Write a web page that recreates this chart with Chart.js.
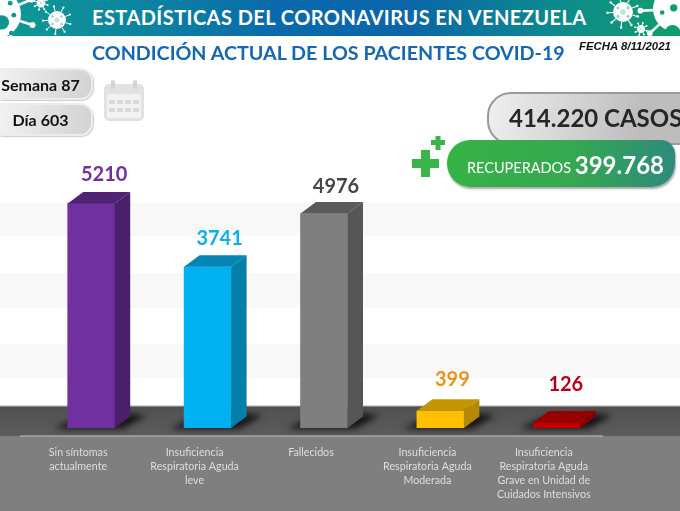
<!DOCTYPE html>
<html lang="es">
<head>
<meta charset="utf-8">
<title>Estadísticas del coronavirus en Venezuela</title>
<script src="https://cdn.jsdelivr.net/npm/chart.js@4"></script>
<style>
  html, body { margin: 0; padding: 0; background: #fff; }
  body { width: 680px; height: 511px; overflow: hidden; position: relative; font-family: Lato, sans-serif; }
  #chart { position: absolute; left: 0; top: 0; }
  .box { position: absolute; box-sizing: border-box; white-space: nowrap; }
  .center { display: flex; align-items: center; justify-content: center; }
  #band { left: 0; top: 0; width: 680px; height: 36px; overflow: hidden;
    background: linear-gradient(90deg, #0f9a92 0%, #0d8c9c 14%, #0a68ad 42%, #0a66a8 60%, #0d8a8e 82%, #0f9f6c 100%); }
  #title { left: 92px; top: 4px; color: #fff; font-weight: 700; font-size: 20px; line-height: 26px; letter-spacing: 0.44px; }
  #subtitle { left: 92px; top: 40px; color: #1467b3; font-weight: 700; font-size: 19.7px; line-height: 26px; }
  #fecha { left: 579px; top: 40px; font: italic bold 11.4px/13px "Liberation Sans", sans-serif; color: #111; }
  .pill { left: -10px; width: 103px; border-radius: 13px; background: linear-gradient(100deg, #f4f4f4, #d2d2d2);
    border: 2px solid #ececec; box-shadow: 1px 1px 1px #ccc; color: #111; font-weight: 700; font-size: 16px; padding-right: 2px; }
  #semana { top: 68px; height: 32px; }
  #dia { top: 103px; height: 33px; }
  #casos { left: 487px; top: 92px; width: 220px; height: 53px; border-radius: 24px;
    background: linear-gradient(100deg, #efefef, #bdbdbd 70%); border: 2px solid #9a9a9a; }
  #casosText { left: 509px; top: 102px; font-weight: 700; font-size: 24px; line-height: 32px; color: #262626; }
  #recuperados { left: 447px; top: 140px; width: 228px; height: 47px; border-radius: 23px 14px 23px 23px;
    background: linear-gradient(90deg, #36b345, #35a850 55%, #2e8a7c); box-shadow: 1px 2px 2px #aaa; }
  #recText { left: 467px; top: 148px; color: #fff; font-size: 14.5px; line-height: 34px; }
  #recNum { font-weight: 700; font-size: 24px; vertical-align: -1px; }
  svg.box { overflow: visible; }
</style>
</head>
<body>
<canvas id="chart" width="680" height="511"></canvas>

<div id="band" class="box"></div>
<div id="title" class="box">ESTADÍSTICAS DEL CORONAVIRUS EN VENEZUELA</div>
<div id="subtitle" class="box">CONDICIÓN ACTUAL DE LOS PACIENTES COVID-19</div>
<div id="fecha" class="box">FECHA 8/11/2021</div>

<div id="semana" class="box pill center">Semana 87</div>
<div id="dia" class="box pill center">Día 603</div>
<svg class="box" style="left:103px;top:80px" width="42" height="42" viewBox="0 0 42 42">
  <rect x="1" y="4" width="40" height="37" rx="5" fill="#e2e2e2"/>
  <rect x="4" y="14" width="34" height="24" fill="#f2f2f2"/>
  <rect x="8" y="0" width="4" height="9" rx="2" fill="#d4d4d4"/>
  <rect x="30" y="0" width="4" height="9" rx="2" fill="#d4d4d4"/>
  <g fill="#d8d8d8">
    <rect x="6" y="20" width="6" height="4"/><rect x="14" y="20" width="6" height="4"/><rect x="22" y="20" width="6" height="4"/><rect x="30" y="20" width="6" height="4"/>
    <rect x="6" y="28" width="6" height="4"/><rect x="14" y="28" width="6" height="4"/><rect x="22" y="28" width="6" height="4"/><rect x="30" y="28" width="6" height="4"/>
  </g>
</svg>

<div id="casos" class="box"></div>
<div id="casosText" class="box">414.220 CASOS</div>
<div id="recuperados" class="box"></div>
<div id="recText" class="box">RECUPERADOS <span id="recNum">399.768</span></div>
<svg class="box" style="left:410px;top:134px" width="38" height="45" viewBox="0 0 38 45" fill="#3bb54a">
  <rect x="2" y="25" width="27" height="9"/><rect x="11" y="16" width="9" height="27"/>
  <rect x="21" y="6" width="14" height="5"/><rect x="25.5" y="2" width="5" height="14"/>
</svg>

<script>
// values
const categories = [
  ['Sin síntomas', 'actualmente'],
  ['Insuficiencia', 'Respiratoria Aguda', 'leve'],
  ['Fallecidos'],
  ['Insuficiencia', 'Respiratoria Aguda', 'Moderada'],
  ['Insuficiencia', 'Respiratoria Aguda', 'Grave en Unidad de', 'Cuidados Intensivos']
];
const pacientes = [5210, 3741, 4976, 399, 126];

const frontColors = ['#7030a0', '#00b0f0', '#7f7f7f', '#ffc000', '#c00000'];
const sideColors = ['#4a1f6c', '#047fa9', '#565656', '#b58a00', '#8a0000'];
const topColors = ['#4f2274', '#0685b2', '#5a5a5a', '#c49500', '#990000'];
const labelColors = ['#7030a0', '#0cb0ef', '#474747', '#e8941c', '#b8001c'];
const labelLift = [17, 17, 15, 20, 27];
const labelShift = [13, 12, 12, 12, 9];

const DEPTH_X = 15.5;
const DEPTH_Y = 11.5;
const wallBands = [[202, 236], [273, 308], [344, 378]];

// background: striped wall and the grey floor
const backdrop = {
  id: 'backdrop',
  beforeDraw(chart) {
    const { ctx, width } = chart;
    ctx.save();
    ctx.fillStyle = '#f8f8f8';
    wallBands.forEach(b => ctx.fillRect(0, b[0], width, b[1] - b[0]));

    ctx.fillStyle = '#7f7f7f';
    ctx.fillRect(0, 436, width, 75);
    const floor = ctx.createLinearGradient(0, 406, 0, 436);
    floor.addColorStop(0, '#505050');
    floor.addColorStop(1, '#5c5c5c');
    ctx.fillStyle = floor;
    ctx.fillRect(0, 406, width, 30);
    ctx.fillStyle = '#b5b5b5';
    ctx.fillRect(0, 405.5, width, 1);
    ctx.fillStyle = '#c4c4c4';
    ctx.fillRect(20, 435.5, 583, 1);
    ctx.restore();
  },
  beforeDatasetsDraw(chart) {
    const { ctx } = chart;
    ctx.save();
    ctx.filter = 'blur(3px)';
    ctx.fillStyle = 'rgba(0,0,0,0.75)';
    chart.getDatasetMeta(0).data.forEach(bar => {
      const l = bar.x - bar.width / 2;
      const r = bar.x + bar.width / 2;
      ctx.beginPath();
      ctx.moveTo(l - 14, bar.base + 1);
      ctx.lineTo(l + 8, bar.base - 10);
      ctx.lineTo(r + DEPTH_X, bar.base - DEPTH_Y - 3);
      ctx.lineTo(r + DEPTH_X + 16, bar.base - DEPTH_Y - 1);
      ctx.lineTo(r + 8, bar.base + 1);
      ctx.closePath();
      ctx.fill();
    });
    ctx.restore();
  }
};

// side and top faces of the boxes, then the number above each
const boxFaces = {
  id: 'boxFaces',
  afterDatasetsDraw(chart) {
    const { ctx } = chart;
    ctx.save();
    chart.getDatasetMeta(0).data.forEach((bar, i) => {
      const l = bar.x - bar.width / 2;
      const r = bar.x + bar.width / 2;
      ctx.fillStyle = sideColors[i];
      ctx.beginPath();
      ctx.moveTo(r, bar.y);
      ctx.lineTo(r + DEPTH_X, bar.y - DEPTH_Y);
      ctx.lineTo(r + DEPTH_X, bar.base - DEPTH_Y);
      ctx.lineTo(r, bar.base);
      ctx.closePath();
      ctx.fill();
      ctx.fillStyle = topColors[i];
      ctx.beginPath();
      ctx.moveTo(l, bar.y);
      ctx.lineTo(l + DEPTH_X, bar.y - DEPTH_Y);
      ctx.lineTo(r + DEPTH_X, bar.y - DEPTH_Y);
      ctx.lineTo(r, bar.y);
      ctx.closePath();
      ctx.fill();

      ctx.fillStyle = labelColors[i];
      ctx.font = 'bold 20px Lato, sans-serif';
      ctx.textAlign = 'center';
      ctx.textBaseline = 'middle';
      ctx.fillText(String(pacientes[i]), bar.x + labelShift[i], bar.y - DEPTH_Y - labelLift[i]);
    });
    ctx.restore();
  }
};

new Chart(document.getElementById('chart'), {
  type: 'bar',
  data: {
    labels: categories,
    datasets: [{
      data: pacientes,
      backgroundColor: frontColors,
      barThickness: 47,
      borderWidth: 0
    }]
  },
  plugins: [backdrop, boxFaces],
  options: {
    responsive: false,
    animation: false,
    layout: { padding: { left: 33, right: 65, top: 169.4, bottom: 0 } },
    plugins: { legend: { display: false }, tooltip: { enabled: false } },
    scales: {
      x: {
        grid: { display: false },
        border: { display: false },
        afterFit(scale) { scale.height = 83; },
        ticks: {
          autoSkip: false,
          maxRotation: 0,
          padding: 9,
          labelOffset: -13,
          color: '#dedede',
          font: { family: 'Lato, sans-serif', size: 10.7, lineHeight: 1.32 }
        }
      },
      y: { display: false, min: 0, max: 6000 }
    }
  }
});

// little virus drawings in the header band
function virus(cx, cy, r, spikes, holes) {
  let s = '';
  for (let i = 0; i < spikes; i++) {
    const a = i * 2 * Math.PI / spikes + 0.3;
    const x1 = (cx + Math.cos(a) * r).toFixed(1), y1 = (cy + Math.sin(a) * r).toFixed(1);
    const x2 = (cx + Math.cos(a) * r * 1.55).toFixed(1), y2 = (cy + Math.sin(a) * r * 1.55).toFixed(1);
    s += `<line x1="${x1}" y1="${y1}" x2="${x2}" y2="${y2}" stroke="#fff" stroke-width="${Math.max(1, r / 9)}"/>`;
    s += `<circle cx="${x2}" cy="${y2}" r="${Math.max(1, r / 8)}" fill="#fff"/>`;
  }
  s += `<circle cx="${cx}" cy="${cy}" r="${r}" fill="#fff"/>`;
  holes.forEach(h => {
    s += `<circle cx="${cx + h[0] * r}" cy="${cy + h[1] * r}" r="${h[2] * r}" fill="${h[3]}"/>`;
  });
  return s;
}
const teal = '#0f9690', green = '#0f9c70';
const smallHoles = [[0, 0, .28, '#bfe3dd'], [-.5, -.4, .14, '#8fcfc8'], [.5, -.4, .14, '#8fcfc8'], [-.5, .45, .14, '#8fcfc8'], [.5, .45, .14, '#8fcfc8']];
document.getElementById('band').innerHTML =
  '<svg width="680" height="36" style="position:absolute;left:0;top:0">' +
  virus(-3, 14, 24, 9, [[.2, .35, .3, teal], [.7, .05, .1, teal], [.6, .8, .1, teal], [.55, -.45, .1, teal]]) +
  virus(57, 20, 9, 9, smallHoles) +
  virus(41, 3, 4.5, 8, smallHoles) +
  virus(623, 12, 10, 9, smallHoles) +
  virus(641, 29, 4, 8, smallHoles) +
  virus(676, 9, 23, 9, [[-.1, -.05, .16, green], [-.6, .15, .1, green], [-.15, 1.05, .35, green]]) +
  '</svg>';
</script>
</body>
</html>
